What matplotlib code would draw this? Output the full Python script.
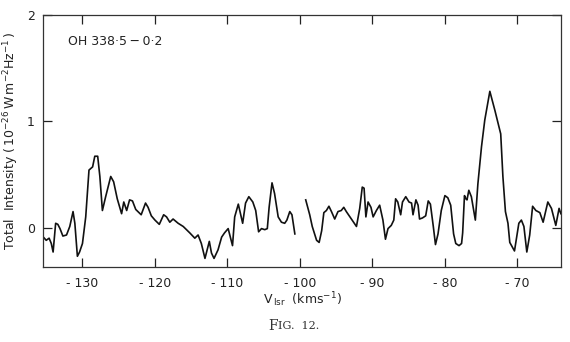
import numpy as np
import matplotlib
matplotlib.use("Agg")
import matplotlib.pyplot as plt

# Spectrum: two segments with a gap near -100 km/s
vel_a = [-135.4, -135.0, -134.6, -134.3, -134.05, -133.7, -133.4, -133.1, -132.7, -132.2,
         -131.75, -131.3, -131.05, -130.7, -130.4, -130.0, -129.55, -129.1, -128.6, -128.3,
         -127.9, -127.6, -127.25, -126.8, -126.1, -125.7, -125.2, -124.6, -124.3, -123.9,
         -123.5, -123.1, -122.65, -121.9, -121.3, -120.95, -120.5, -120.0, -119.4, -118.8,
         -118.4, -117.95, -117.5, -116.8, -116.1, -115.2, -114.5, -114.05, -113.6, -113.1,
         -112.5, -112.2, -111.85, -111.3, -110.8, -110.4, -109.9, -109.3, -109.0, -108.5,
         -107.9, -107.5, -107.05, -106.5, -106.1, -105.7, -105.3, -104.85, -104.5, -104.25,
         -103.85, -103.5, -103.0, -102.55, -102.1, -101.8, -101.4, -101.1, -100.7]
int_a = [-0.09, -0.12, -0.10, -0.15, -0.23, 0.04, 0.03, -0.01, -0.08, -0.07,
         0.01, 0.15, 0.04, -0.27, -0.23, -0.15, 0.10, 0.54, 0.57, 0.67,
         0.67, 0.48, 0.16, 0.29, 0.48, 0.43, 0.27, 0.13, 0.24, 0.16,
         0.26, 0.25, 0.17, 0.12, 0.23, 0.19, 0.11, 0.07, 0.03, 0.12,
         0.10, 0.05, 0.08, 0.04, 0.01, -0.05, -0.10, -0.07, -0.15, -0.29,
         -0.13, -0.24, -0.29, -0.21, -0.09, -0.05, -0.01, -0.17, 0.10, 0.22,
         0.04, 0.23, 0.29, 0.24, 0.16, -0.04, -0.01, -0.02, -0.01, 0.19,
         0.42, 0.32, 0.10, 0.05, 0.04, 0.07, 0.15, 0.12, -0.06]

vel_b = [-99.2, -98.65, -98.3, -97.7, -97.35, -97.0, -96.7, -96.35, -96.0, -95.65,
         -95.2, -94.75, -94.3, -93.95, -93.6, -92.9, -92.2, -91.75, -91.4, -91.15,
         -90.9, -90.6, -90.2, -89.9, -89.45, -89.0, -88.55, -88.2, -87.85, -87.4,
         -87.05, -86.8, -86.5, -86.1, -85.85, -85.4, -84.95, -84.6, -84.4, -84.0,
         -83.7, -83.5, -83.1, -82.65, -82.3, -82.0, -81.6, -81.3, -80.95, -80.5,
         -80.0, -79.6, -79.2, -78.8, -78.5, -78.05, -77.7, -77.55, -77.3, -77.1,
         -76.95, -76.7, -76.35, -76.1, -75.8, -75.45, -74.95, -74.5, -73.8, -73.1,
         -72.3, -72.0, -71.65, -71.3, -71.05, -70.4, -69.8, -69.45, -69.1, -68.7,
         -68.3, -67.9, -67.45, -66.9, -66.45, -65.8, -65.3, -64.7, -64.25, -64.0]
int_b = [0.26, 0.12, 0.01, -0.12, -0.14, -0.03, 0.14, 0.16, 0.20, 0.15,
         0.08, 0.15, 0.16, 0.19, 0.15, 0.08, 0.01, 0.18, 0.38, 0.37,
         0.10, 0.24, 0.19, 0.10, 0.16, 0.21, 0.07, -0.11, -0.01, 0.02,
         0.07, 0.27, 0.24, 0.12, 0.24, 0.29, 0.24, 0.23, 0.12, 0.26,
         0.21, 0.08, 0.09, 0.11, 0.25, 0.22, 0.01, -0.16, -0.06, 0.16,
         0.30, 0.28, 0.21, -0.06, -0.15, -0.17, -0.15, -0.05, 0.30, 0.27,
         0.26, 0.35, 0.29, 0.19, 0.07, 0.41, 0.76, 1.01, 1.28, 1.10,
         0.88, 0.48, 0.15, 0.04, -0.14, -0.22, 0.04, 0.07, 0.01, -0.23,
         -0.07, 0.20, 0.16, 0.14, 0.05, 0.24, 0.18, 0.02, 0.18, 0.13]

xticks = [-130, -120, -110, -100, -90, -80, -70]
xtick_labels = ["- 130", "- 120", "- 110", "- 100", "- 90", "- 80", "- 70"]
yticks = [0, 1, 2]
ytick_labels = ["0", "1", "2"]
source_name = "OH 338\u00b75\u2009\u2212\u20090\u00b72"

fig = plt.figure(figsize=(5.7, 3.42), dpi=100)
ax = fig.add_axes([0.076, 0.218, 0.908, 0.739])

ax.plot(vel_a, int_a, color="#111111", lw=1.2)
ax.plot(vel_b, int_b, color="#111111", lw=1.2)

ax.set_xlim(-135.4, -64.0)
ax.set_ylim(-0.375, 2.0)

ax.set_xticks(xticks)
ax.set_xticklabels(xtick_labels)
ax.set_yticks(yticks)
ax.set_yticklabels(ytick_labels)
ax.tick_params(direction="in", length=6.5, width=0.9, top=True, right=True,
               labelsize=9, colors="#222222")
ax.tick_params(axis="x", pad=7)
ax.tick_params(axis="y", pad=6)
for s in ax.spines.values():
    s.set_linewidth(0.9)
    s.set_color("#333333")

ax.text(0.048, 0.893, source_name, transform=ax.transAxes, fontsize=9,
        ha="left", va="center", color="#222222")

ax.set_ylabel(r"Total  Intensity $(\,10^{-26}\,\mathrm{W\,m^{-2}Hz^{-1}}\,)$",
              fontsize=9, color="#222222", labelpad=4)
ax.set_xlabel(r"V$_{\,\mathrm{lsr}}$  (kms$^{-1}$)", fontsize=9, color="#222222",
              labelpad=0)

# small-caps style caption
fig.text(0.487, 0.047, "F", family="DejaVu Serif", fontsize=10, ha="right",
         va="center", color="#333333")
fig.text(0.487, 0.047, "IG.  12.", family="DejaVu Serif", fontsize=8, ha="left",
         va="center", color="#333333")

fig.savefig("out.png", dpi=100)
